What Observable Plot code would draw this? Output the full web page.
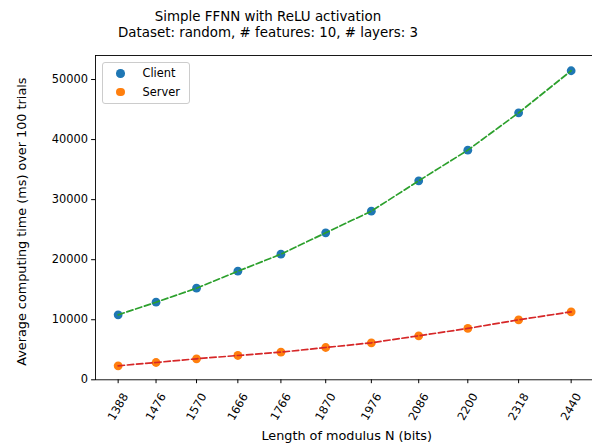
<!DOCTYPE html>
<html><head><meta charset="utf-8">
<script src="https://cdn.jsdelivr.net/npm/d3@7"></script>
<script src="https://cdn.jsdelivr.net/npm/@observablehq/plot@0.6"></script>
<style>
body{margin:0;background:#fff;font-family:"DejaVu Sans",sans-serif;}
#wrap{position:relative;width:592px;height:446px;overflow:hidden;background:#fff;}
#title{position:absolute;left:0;top:9px;width:536px;text-align:center;font-size:13.4px;line-height:15.5px;color:#000;}
#legend{position:absolute;left:101.5px;top:61.5px;width:86px;height:40px;border:1px solid #cccccc;border-radius:3px;background:rgba(255,255,255,0.8);font-size:11.4px;color:#000;}
.item{position:absolute;left:0;height:14px;line-height:14px;}
.sw{position:absolute;left:13.5px;top:2.7px;width:8.6px;height:8.6px;border-radius:50%;}
.lab{position:absolute;left:40px;top:0;white-space:nowrap;}
</style></head><body><div id="wrap">
</div>
<script>
const bits = [1388, 1476, 1570, 1666, 1766, 1870, 1976, 2086, 2200, 2318, 2440];
const clientMs = [10820, 12920, 15250, 18080, 20920, 24480, 28080, 33140, 38240, 44460, 51460];
const serverMs = [2330, 2880, 3500, 4050, 4600, 5380, 6160, 7330, 8550, 9990, 11320];
const yTicks = [0, 10000, 20000, 30000, 40000, 50000];
const seriesNames = ["Client", "Server"];
const dotColors = ["#1f77b4", "#ff7f0e"];
const lineColors = ["#2ca02c", "#d62728"];
const titleLines = ["Simple FFNN with ReLU activation", "Dataset: random, # features: 10, # layers: 3"];
const xLabel = "Length of modulus N (bits)";
const yLabel = "Average computing time (ms) over 100 trials";

const client = bits.map((b, i) => ({bits: b, ms: clientMs[i]}));
const server = bits.map((b, i) => ({bits: b, ms: serverMs[i]}));
const tickRows = bits.map(b => ({bits: b}));
const FS = 11.4;
const LFS = 12.8;

const plot = Plot.plot({
  width: 592,
  height: 446,
  marginTop: 55,
  marginBottom: 66.7,
  marginLeft: 95,
  marginRight: -1.3,
  style: {fontFamily: "DejaVu Sans", fontSize: FS + "px", color: "black", background: "white"},
  x: {type: "linear", domain: [1335.4, 2492.6]},
  y: {domain: [0, 54000]},
  marks: [
    Plot.frame({stroke: "black", strokeWidth: 0.9}),
    Plot.axisY({ticks: yTicks, tickSize: 3.9, tickPadding: 3.5, tickFormat: d => String(d), fontSize: FS, label: null}),
    Plot.axisX({ticks: bits, tickSize: 3.9, tickFormat: () => "", label: null}),
    Plot.text(tickRows, {x: "bits", frameAnchor: "bottom", text: d => String(d.bits), rotate: -60, textAnchor: "middle", lineAnchor: "middle", dy: 27, fill: "black", fontSize: FS}),
    Plot.text([xLabel], {frameAnchor: "bottom", text: d => d, textAnchor: "middle", lineAnchor: "middle", dx: 2, dy: 56, fill: "black", fontSize: LFS}),
    Plot.text([yLabel], {frameAnchor: "left", text: d => d, rotate: -90, textAnchor: "middle", lineAnchor: "middle", dx: -74, dy: 4, fill: "black", fontSize: LFS}),
    Plot.dot(client, {x: "bits", y: "ms", r: 4.4, fill: dotColors[0], stroke: "none"}),
    Plot.dot(server, {x: "bits", y: "ms", r: 4.4, fill: dotColors[1], stroke: "none"}),
    Plot.line(client, {x: "bits", y: "ms", stroke: lineColors[0], strokeWidth: 1.7, strokeDasharray: "6.4,2.8"}),
    Plot.line(server, {x: "bits", y: "ms", stroke: lineColors[1], strokeWidth: 1.7, strokeDasharray: "6.4,2.8"})
  ]
});
const wrap = document.getElementById("wrap");
wrap.appendChild(plot);

const title = document.createElement("div");
title.id = "title";
title.innerHTML = titleLines.map(t => `<div>${t}</div>`).join("");
wrap.appendChild(title);

const legend = document.createElement("div");
legend.id = "legend";
seriesNames.forEach((name, i) => {
  const item = document.createElement("div");
  item.className = "item";
  item.style.top = (3.8 + i * 18.7) + "px";
  item.style.width = "100%";
  item.innerHTML = `<span class="sw" style="background:${dotColors[i]}"></span><span class="lab">${name}</span>`;
  legend.appendChild(item);
});
wrap.appendChild(legend);
</script>
</body></html>
